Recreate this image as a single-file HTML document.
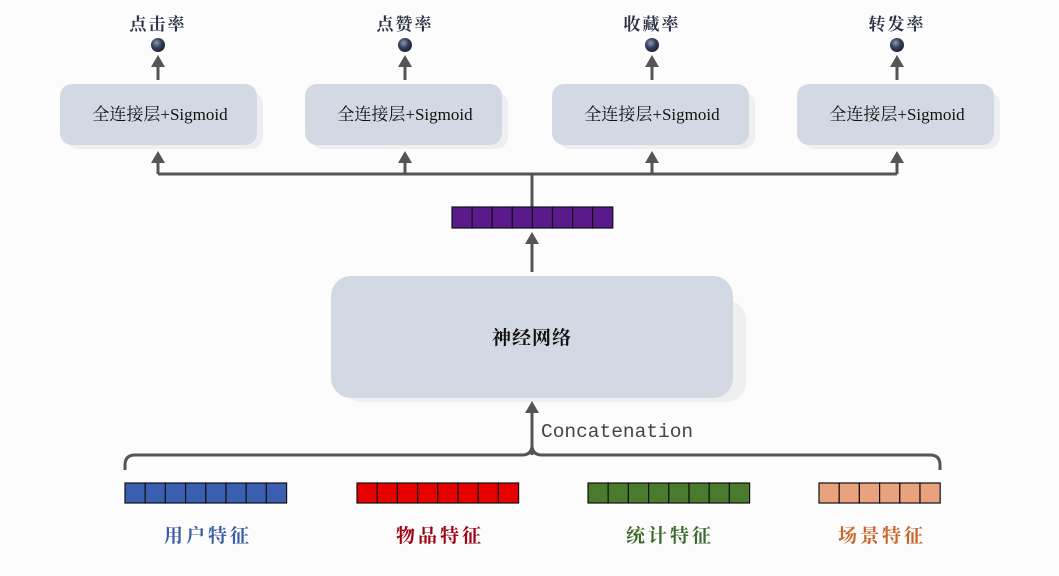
<!DOCTYPE html>
<html><head><meta charset="utf-8"><style>
html,body{margin:0;padding:0;background:#fdfcfd;}
svg{display:block;}
.cn{font-family:"Liberation Serif","Noto Serif CJK SC",serif;}
</style></head><body>
<svg width="1059" height="576" viewBox="0 0 1059 576" xmlns="http://www.w3.org/2000/svg">
<defs>
<radialGradient id="ball" cx="0.4" cy="0.35" r="0.7">
<stop offset="0" stop-color="#8a9ab8"/><stop offset="0.5" stop-color="#34405a"/><stop offset="1" stop-color="#1a2030"/>
</radialGradient>
</defs>
<g fill="#e4e6ea" opacity="0.6">
<rect x="66" y="92" width="197" height="57" rx="12"/>
<rect x="311" y="92" width="197" height="57" rx="12"/>
<rect x="558" y="92" width="197" height="57" rx="12"/>
<rect x="803" y="92" width="197" height="57" rx="12"/>
<rect x="341" y="300" width="405" height="102" rx="20"/>
</g>
<g fill="#d3d9e2">
<rect x="60" y="84" width="197" height="61" rx="12"/>
<rect x="305" y="84" width="197" height="61" rx="12"/>
<rect x="552" y="84" width="197" height="61" rx="12"/>
<rect x="797" y="84" width="197" height="61" rx="12"/>
<rect x="331" y="276" width="402" height="122" rx="20"/>
</g>
<g class="cn" font-size="17" fill="#111" text-anchor="middle">
<text x="160" y="120">全连接层+Sigmoid</text>
<text x="405" y="120">全连接层+Sigmoid</text>
<text x="652" y="120">全连接层+Sigmoid</text>
<text x="897" y="120">全连接层+Sigmoid</text>
</g>
<text class="cn" x="532" y="344" font-size="19" font-weight="bold" text-anchor="middle" fill="#111" letter-spacing="1">神经网络</text>
<g class="cn" font-size="17" fill="#2a3346" text-anchor="middle" font-weight="bold" letter-spacing="2">
<text x="158" y="30">点击率</text><text x="405" y="30">点赞率</text>
<text x="652" y="30">收藏率</text><text x="897" y="30">转发率</text>
</g>
<g fill="url(#ball)">
<circle cx="158" cy="45" r="7"/><circle cx="405" cy="45" r="7"/>
<circle cx="652" cy="45" r="7"/><circle cx="897" cy="45" r="7"/>
</g>
<g stroke="#555" stroke-width="3" fill="none">
<path d="M158 80V60M405 80V60M652 80V60M897 80V60"/>
<path d="M158 174H897M158 174V156M405 174V156M652 174V156M897 174V156M532 174V207"/>
<path d="M532 272V240M532 455V412"/>
<path d="M125 470V465Q125 455 135 455H522Q532 455 532 445Q532 455 542 455H930Q940 455 940 465V470"/>
</g>
<g fill="#555">
<path d="M151 67L158 55L165 67ZM398 67L405 55L412 67ZM645 67L652 55L659 67ZM890 67L897 55L904 67Z"/>
<path d="M151 163L158 151L165 163ZM398 163L405 151L412 163ZM645 163L652 151L659 163ZM890 163L897 151L904 163Z"/>
<path d="M525 244L532 232L539 244ZM525 413L532 401L539 413Z"/>
</g>
<text x="541" y="437" font-family="Liberation Mono,monospace" font-size="19.5" fill="#444">Concatenation</text>
<g stroke="#111" stroke-width="1.2">
<g fill="#5a1a8c"><rect x="452" y="207" width="20.1" height="21"/><rect x="472.1" y="207" width="20.1" height="21"/><rect x="492.2" y="207" width="20.1" height="21"/><rect x="512.3" y="207" width="20.1" height="21"/><rect x="532.4" y="207" width="20.1" height="21"/><rect x="552.5" y="207" width="20.1" height="21"/><rect x="572.6" y="207" width="20.1" height="21"/><rect x="592.7" y="207" width="20.1" height="21"/></g>
<g fill="#3b5fb0"><rect x="125" y="483" width="20.2" height="20"/><rect x="145.2" y="483" width="20.2" height="20"/><rect x="165.4" y="483" width="20.2" height="20"/><rect x="185.6" y="483" width="20.2" height="20"/><rect x="205.8" y="483" width="20.2" height="20"/><rect x="226" y="483" width="20.2" height="20"/><rect x="246.2" y="483" width="20.2" height="20"/><rect x="266.4" y="483" width="20.2" height="20"/></g>
<g fill="#e60000"><rect x="357" y="483" width="20.2" height="20"/><rect x="377.2" y="483" width="20.2" height="20"/><rect x="397.4" y="483" width="20.2" height="20"/><rect x="417.6" y="483" width="20.2" height="20"/><rect x="437.8" y="483" width="20.2" height="20"/><rect x="458" y="483" width="20.2" height="20"/><rect x="478.2" y="483" width="20.2" height="20"/><rect x="498.4" y="483" width="20.2" height="20"/></g>
<g fill="#4a7a2e"><rect x="588" y="483" width="20.2" height="20"/><rect x="608.2" y="483" width="20.2" height="20"/><rect x="628.4" y="483" width="20.2" height="20"/><rect x="648.6" y="483" width="20.2" height="20"/><rect x="668.8" y="483" width="20.2" height="20"/><rect x="689" y="483" width="20.2" height="20"/><rect x="709.2" y="483" width="20.2" height="20"/><rect x="729.4" y="483" width="20.2" height="20"/></g>
<g fill="#e9a27e"><rect x="819" y="483" width="20.2" height="20"/><rect x="839.2" y="483" width="20.2" height="20"/><rect x="859.4" y="483" width="20.2" height="20"/><rect x="879.6" y="483" width="20.2" height="20"/><rect x="899.8" y="483" width="20.2" height="20"/><rect x="920" y="483" width="20.2" height="20"/></g>
</g>
<g class="cn" font-size="19" text-anchor="middle" letter-spacing="3" font-weight="bold">
<text x="208" y="542" fill="#3a5da8">用户特征</text>
<text x="440" y="542" fill="#a00010">物品特征</text>
<text x="670" y="542" fill="#3a6b2a">统计特征</text>
<text x="882" y="542" fill="#c8642a">场景特征</text>
</g>
</svg>
</body></html>
